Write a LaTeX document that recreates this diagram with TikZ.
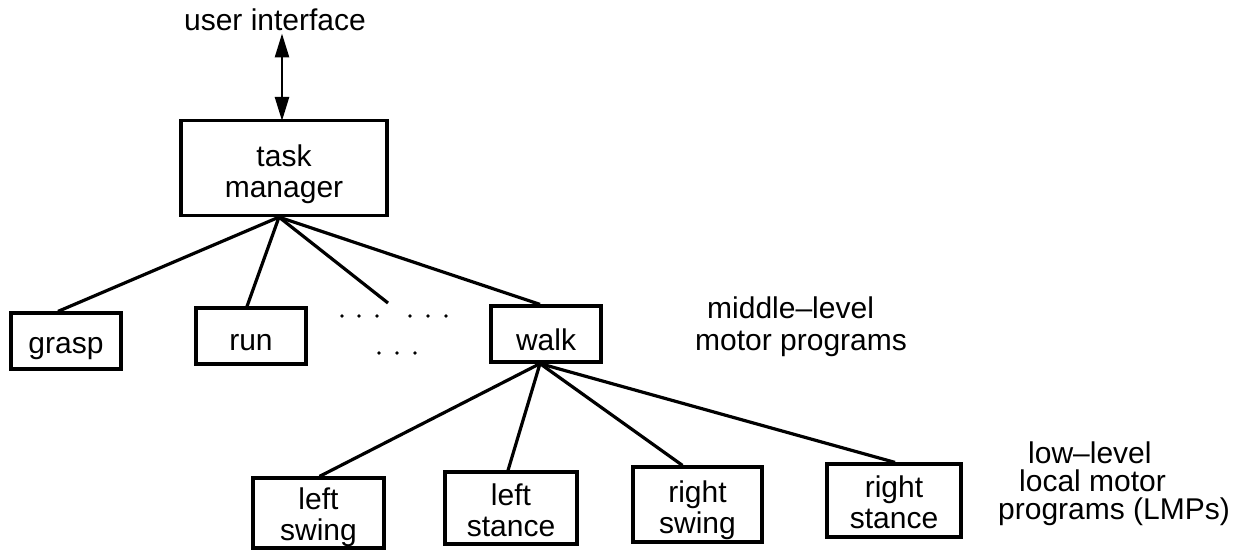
\documentclass[tikz,border=0pt]{standalone}
\usepackage{fontspec}
\setmainfont{Liberation Sans}
\usetikzlibrary{arrows.meta}
\begin{document}
\begin{tikzpicture}[x=1pt,y=-1pt,
  every node/.style={font=\fontsize{30}{31}\selectfont},
  box/.style={draw, line width=3.2pt, align=center, inner sep=0pt, text depth=0pt},
  oneline/.style={box, text height=29pt},
  twoline/.style={box, text height=56pt},
  link/.style={line width=3.2pt},
  lbl/.style={inner sep=0pt, align=left},
  biarrow/.style={line width=2.6pt,
    {Triangle[length=24pt,width=14pt]}-{Triangle[length=24pt,width=14pt]}}]
\useasboundingbox (0,0) rectangle (1249,550);

% top of the hierarchy
\node[lbl, anchor=base] (ui) at (275,30) {user interface};
\node[twoline, text height=58pt, minimum width=206pt, minimum height=95pt] (task) at (284,168) {task\\manager};

% middle-level motor programs
\node[oneline, text height=24pt, minimum width=110pt, minimum height=56pt] (grasp) at (66,341) {grasp};
\node[oneline, minimum width=110pt, minimum height=56pt] (run) at (251,336) {run};
\node[oneline, text height=32pt, minimum width=110pt, minimum height=56pt] (walk) at (546,334) {walk};
\coordinate (more) at (388,303);

% elided programs
\foreach \x in {342,359,377,410,428,446} \fill (\x,316) circle (1.9pt);
\foreach \x in {379,397,415} \fill (\x,353) circle (1.9pt);

% low-level local motor programs
\node[twoline, text height=54pt, minimum width=131pt, minimum height=70pt] (lswing) at (318.5,513) {left\\swing};
\node[twoline, minimum width=132pt, minimum height=72pt] (lstance) at (511,508) {left\\stance};
\node[twoline, text height=57pt, minimum width=129pt, minimum height=75pt] (rswing) at (697.5,504.5) {right\\swing};
\node[twoline, text height=55pt, minimum width=134pt, minimum height=73pt] (rstance) at (894,500.5) {right\\stance};

% level captions
\node[lbl, anchor=west, font=\fontsize{30}{32}\selectfont] (mid) at (695,327)
  {\hspace*{12pt}middle\textendash level\\motor programs};
\node[lbl, anchor=west, font=\fontsize{30}{28}\selectfont] (low) at (998,484)
  {\hspace*{30pt}low\textendash level\\\hspace*{21pt}local motor\\programs (LMPs)};

% connectors
\draw[biarrow] ([xshift=7pt,yshift=-3pt]ui.south) -- ([xshift=-2pt,yshift=-2pt]task.north);
\draw[link] ([xshift=-5pt]task.south) -- ([xshift=-8pt]grasp.north);
\draw[link] ([xshift=-5pt]task.south) -- ([xshift=-4pt]run.north);
\draw[link] ([xshift=-5pt]task.south) -- (more);
\draw[link] ([xshift=-5pt]task.south) -- ([xshift=-6pt]walk.north);
\draw[link] ([xshift=-6pt]walk.south) -- ([xshift=1pt]lswing.north);
\draw[link] ([xshift=-6pt]walk.south) -- ([xshift=-3pt]lstance.north);
\draw[link] ([xshift=-6pt]walk.south) -- ([xshift=-15pt]rswing.north);
\draw[link] ([xshift=-6pt]walk.south) -- ([xshift=1pt]rstance.north);
\end{tikzpicture}
\end{document}
